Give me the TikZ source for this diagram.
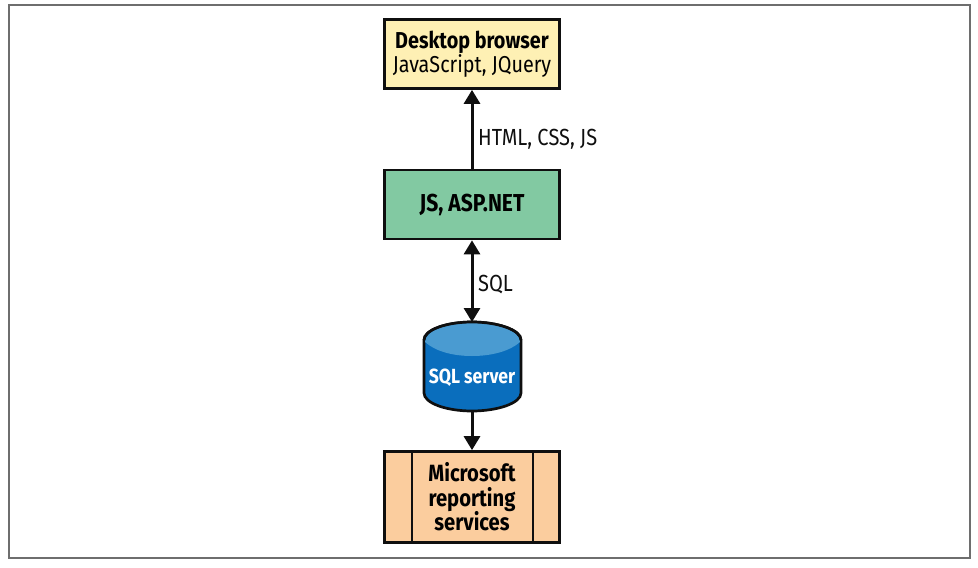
\documentclass[tikz,border=0pt]{standalone}
\usepackage{fontspec}
\setmainfont{Fira Sans}[FakeStretch=0.86]
\usetikzlibrary{arrows.meta}
\definecolor{yel}{HTML}{FEF0B4}
\definecolor{grn}{HTML}{82C9A2}
\definecolor{org}{HTML}{FBCD9E}
\definecolor{blu}{HTML}{0A6EBD}
\definecolor{blt}{HTML}{4A9BD1}
\definecolor{ink}{HTML}{0F0F0F}
\definecolor{frm}{HTML}{6E6E6E}
\tikzset{
  x=1pt,y=-1pt,
  boxed/.style={draw=ink,line width=2.7pt,minimum width=175pt,inner sep=0pt,align=center,font=\fontsize{23}{25}\selectfont},
  conn/.style={draw=ink,line width=3pt,-{Triangle[length=14pt,width=16pt]}},
  biconn/.style={draw=ink,line width=3pt,{Triangle[length=14pt,width=16pt]}-{Triangle[length=14pt,width=16pt]}},
  lbl/.style={font=\fontsize{23.3}{25}\selectfont,text=ink,inner sep=0pt,anchor=west}
}
\begin{document}
\begin{tikzpicture}
\useasboundingbox (0,0) rectangle (978,568);
\draw[frm,line width=2pt] (9,5) rectangle (970,558);
\node[boxed,fill=yel,minimum height=69pt] (browser) at (472,54) {\textbf{Desktop browser}\\[-1pt]JavaScript, JQuery};
\node[boxed,fill=grn,minimum height=69pt,font=\fontsize{24.5}{25}\selectfont\bfseries] (app) at (472,204.5) {JS, ASP.NET};
% database cylinder
\coordinate (dbtop) at (472,322);
\coordinate (dbbot) at (472,411);
\filldraw[fill=blu,draw=ink,line width=2.7pt] (424,340) .. controls (424,330) and (446,322) .. (472,322) .. controls (498,322) and (521,330) .. (521,340) -- (521,393) .. controls (521,403) and (498,411) .. (472,411) .. controls (446,411) and (424,403) .. (424,393) -- cycle;
\fill[blt] (425,342) .. controls (425,331) and (446,323) .. (472,323) .. controls (498,323) and (520,331) .. (520,342) .. controls (510,351) and (492,356) .. (472,356) .. controls (452,356) and (435,351) .. (425,342) -- cycle;
\draw[ink,line width=2.7pt] (424,340) .. controls (424,330) and (446,322) .. (472,322) .. controls (498,322) and (521,330) .. (521,340);
\node[inner sep=0pt,text=white,font=\fontsize{20.5}{24}\selectfont\bfseries] (db) at (472,378) {SQL server};
\node[boxed,fill=org,minimum height=91pt,font=\fontsize{23.5}{24.5}\selectfont\bfseries] (reports) at (472,497) {Microsoft\\reporting\\services};
\draw[ink,line width=2.7pt] (412,451) -- (412,543) (533,451) -- (533,543);
\draw[conn] (app.north) -- (browser.south);
\draw[biconn] (app.south) -- (dbtop);
\draw[conn] (dbbot) -- (reports.north);
\node[lbl] (l1) at (478,139) {HTML, CSS, JS};
\node[lbl] (l2) at (478,285) {SQL};
\end{tikzpicture}
\end{document}
